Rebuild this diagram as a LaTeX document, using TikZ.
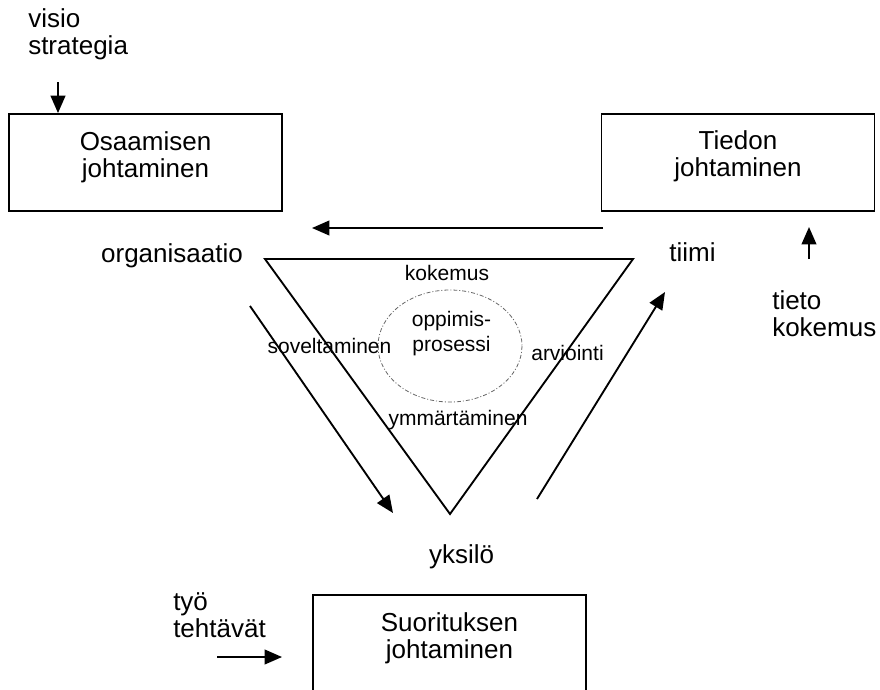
\documentclass[tikz,border=0pt]{standalone}
\usepackage{fontspec}
\setmainfont{Liberation Sans}
\usetikzlibrary{arrows.meta}

\begin{document}
\begin{tikzpicture}[x=0.75pt, y=-0.75pt,
  box/.style={draw, line width=1.4pt, minimum width=204.75pt, minimum height=72.75pt, inner sep=0pt},
  bigtext/.style={font=\fontsize{19.5}{20.25}\selectfont, align=center, inner sep=0pt},
  smalltext/.style={font=\fontsize{15.75}{18.75}\selectfont, align=center, inner sep=0pt},
  flow/.style={-{Triangle[length=13pt,width=11pt]}, line width=1.4pt}]
\clip (0,0) rectangle (880,689);

% The three management boxes
\node[box] (osaamisen) at (145.5,162.5) {};
\node[bigtext] (osaamisenteksti) at (145.5,157.7) {Osaamisen\\johtaminen};
\node[box] (tiedon) at (738,162.5) {};
\node[bigtext] (tiedonteksti) at (738,156.7) {Tiedon\\johtaminen};
\node[box, minimum height=93.75pt] (suorituksen) at (449.5,657.5) {};
\node[bigtext] (suoritukseteksti) at (449.5,638) {Suorituksen\\johtaminen};

% Inputs
\node[bigtext, align=left, anchor=west] (visio) at (28,34.7) {visio\\strategia};
\node[bigtext, align=left, anchor=west] (tieto) at (772,313.7) {tieto\\kokemus};
\node[bigtext, align=left, anchor=west] (tyo) at (173,615) {työ\\tehtävät};

% Levels
\node[bigtext, anchor=base] (organisaatio) at (172,262) {organisaatio};
\node[bigtext, anchor=base] (tiimi) at (692.5,261) {tiimi};
\node[bigtext, anchor=base] (yksilo) at (461.5,563) {yksilö};

% Learning triangle
\coordinate (kulmaA) at (265,259);
\coordinate (kulmaB) at (633,259);
\coordinate (kulmaC) at (450,514);
\draw[line width=1.4pt] (kulmaA) -- (kulmaB) -- (kulmaC) -- cycle;
\draw[gray!80!black, line width=0.6pt, dash pattern=on 3pt off 1.5pt on 0.75pt off 1.5pt]
  (450,346) ellipse [x radius=72, y radius=56];

\node[smalltext, anchor=base] (kokemus) at (447,280) {kokemus};
\node[smalltext] (oppimis) at (451.5,334) {oppimis-\\prosessi};
\node[smalltext, anchor=base] (soveltaminen) at (329.5,353) {soveltaminen};
\node[smalltext, anchor=base] (arviointi) at (567.5,360) {arviointi};
\node[smalltext, anchor=base] (ymmartaminen) at (458,425) {ymmärtäminen};

% Flows
\coordinate (visioalku) at (58,82);
\draw[flow] (visioalku) -- (visioalku |- osaamisen.north);
\coordinate (tietoalku) at (809,259);
\coordinate (tietoloppu) at (809,227);
\draw[flow] (tietoalku) -- (tietoloppu);
\coordinate (ylaalku) at (603,228);
\coordinate (ylaloppu) at (312,228);
\draw[flow] (ylaalku) -- (ylaloppu);
\coordinate (vasenalku) at (250,306);
\coordinate (vasenloppu) at (393,513);
\draw[flow] (vasenalku) -- (vasenloppu);
\coordinate (oikeaalku) at (537,499);
\coordinate (oikealoppu) at (665,292);
\draw[flow] (oikeaalku) -- (oikealoppu);
\coordinate (tyoalku) at (217,657);
\coordinate (tyoloppu) at (282,657);
\draw[flow] (tyoalku) -- (tyoloppu);
\end{tikzpicture}
\end{document}
